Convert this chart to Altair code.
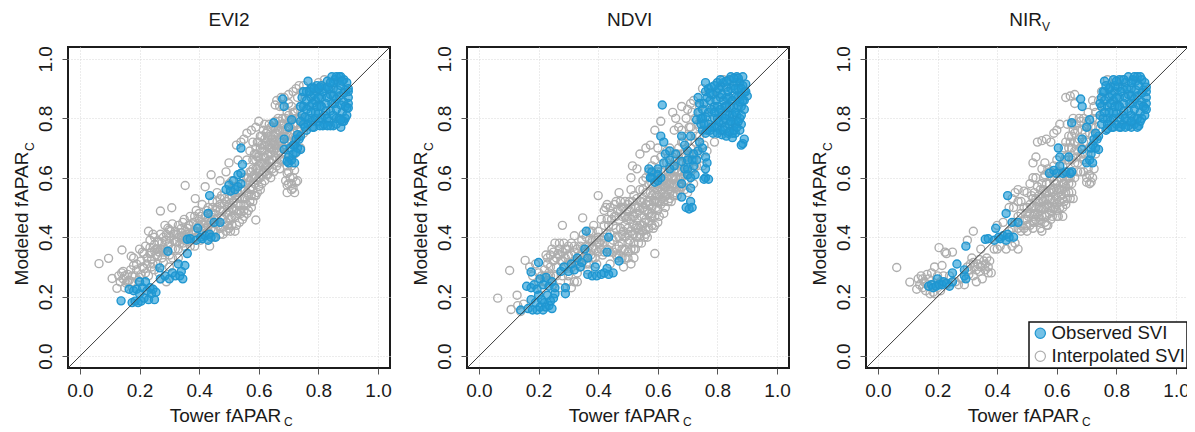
import altair as alt
import pandas as pd

PANELS = ["EVI2", "NDVI", "NIR"]
PANEL_TITLE_X = [140.5, 140, 143.3]
SUBSCRIPTS = ["", "", "V"]
TICKS = [0.0, 0.2, 0.4, 0.6, 0.8, 1.0]
DIAGONAL = [-0.04, 1.04]
OBSERVED = "Observed SVI"
INTERPOLATED = "Interpolated SVI"

EVI2_GRAY = [(.064,.311),(.096,.329),(.108,.261),(.141,.357),(.172,.336),(.124,.228),(.27,.488),(.308,.499),(.353,.574),(.387,.53),(.59,.458),
(.13,.27),(.135,.25),(.14,.28),(.145,.26),(.15,.27),(.155,.245),(.16,.275),(.15,.23),(.165,.255),(.17,.29),(.18,.33),(.175,.25),(.185,.27),(.19,.29),(.195,.255),(.2,.36),(.205,.32),(.215,.345),(.22,.37),(.225,.33),(.23,.42),(.235,.39),(.24,.35),(.21,.30),(.22,.28),(.245,.41),(.25,.375),(.255,.34),(.26,.31),(.265,.385),(.27,.36),(.275,.33),(.28,.40),(.285,.44),(.29,.41),(.295,.37),(.3,.34),(.305,.42),(.31,.445),(.315,.39),(.32,.36),(.325,.41),(.33,.44),(.335,.38),(.34,.43),(.345,.40),(.35,.46),(.355,.42),(.36,.385),(.365,.44),(.37,.47),(.375,.41),(.38,.45),(.385,.37),(.39,.49),(.395,.43),(.4,.46),(.405,.39),(.41,.51),(.415,.44),(.42,.47),(.425,.41),(.43,.50),(.435,.37),(.44,.45),(.445,.52),(.45,.42),(.455,.49),(.46,.55),(.465,.44),(.47,.51),(.475,.47),(.48,.41),(.485,.53),(.49,.45),(.495,.50),(.5,.43),(.505,.56),(.51,.47),(.515,.52),(.52,.42),(.525,.49),(.53,.55),(.535,.45),(.54,.51),(.545,.58),(.55,.47),(.555,.53),(.56,.60),(.565,.49),(.57,.56),(.575,.62),(.58,.52),(.58,.66),(.585,.58),(.59,.70),(.59,.54),(.595,.63),(.6,.67),(.6,.57),(.605,.74),(.61,.61),(.61,.69),(.615,.76),(.62,.65),(.62,.59),(.625,.72),(.63,.68),(.63,.61),(.635,.78),(.64,.74),(.64,.65),(.645,.70),(.65,.62),(.65,.77),(.655,.67),(.66,.86),(.66,.73),(.665,.80),(.67,.69),(.67,.63),(.675,.87),(.68,.76),(.68,.84),(.685,.66),(.69,.80),(.69,.59),(.695,.72),(.695,.55),(.70,.85),(.70,.62),(.705,.77),(.71,.56),(.71,.58),(.715,.89),(.715,.60),(.72,.82),(.72,.55),(.725,.74),(.73,.59),(.73,.87),(.74,.80),(.74,.70),(.75,.91),
(.49,.62),(.5,.65),(.51,.59),(.53,.66),(.525,.71),(.54,.72),(.44,.61),(.42,.57),(.47,.59),(.55,.73),(.56,.75),(.575,.76),(.59,.77),(.6,.79),(.62,.78),
(.5,.49),(.51,.54),(.52,.57),(.53,.51),(.54,.48),(.55,.56),(.56,.51),(.57,.59),(.575,.54),(.585,.61),(.59,.66),(.595,.59),(.6,.62),(.605,.56),(.61,.65),(.615,.62),(.62,.69),(.625,.64),(.63,.73),(.635,.66),(.64,.70),(.645,.63),(.65,.72),(.655,.75),(.66,.69),(.665,.65),(.67,.73),(.675,.78),(.68,.70),(.685,.74),(.69,.68),(.695,.77),(.70,.72),(.705,.66),(.71,.64),(.72,.68),
(.44,.48),(.45,.46),(.46,.50),(.47,.43),(.48,.49),(.49,.42),(.5,.53),(.51,.44),(.35,.37),(.37,.39),(.39,.40),(.41,.42),(.43,.44),(.24,.30),(.25,.29),(.26,.36),(.28,.35),(.3,.38),(.32,.42),(.27,.26),(.29,.25),(.31,.28),(.33,.33),(.76,.80),(.78,.85),(.80,.92),(.82,.93),(.76,.86),(.74,.84),(.75,.75),(.73,.78),(.72,.72),(.745,.89),
(.145,.285),(.16,.25),(.175,.27),(.19,.31),(.205,.275),(.21,.35),(.225,.31),(.235,.365),(.24,.325),(.25,.40),(.255,.36),(.265,.35),(.27,.41),(.275,.38),(.285,.36),(.29,.39),(.295,.43),(.3,.40),(.31,.36),(.315,.41),(.325,.385),(.33,.36),(.34,.40),(.345,.45),(.35,.39),(.36,.43),(.365,.41),(.37,.44),(.38,.42),(.385,.47),(.39,.44),(.4,.41),(.405,.47),(.41,.45),(.42,.43),(.425,.49),(.43,.46),(.44,.43),(.445,.50),(.45,.48),(.46,.46),(.46,.52),(.47,.49),(.475,.54),(.48,.46),(.485,.51),(.49,.48),(.495,.44),(.5,.51),(.505,.46),(.51,.50),(.515,.55),(.52,.47),(.525,.53),(.53,.48),(.535,.53),(.54,.56),(.545,.46),(.55,.51),(.555,.58),(.56,.48),(.565,.54),(.57,.62),(.575,.50),(.58,.60),(.58,.56),(.585,.68),(.59,.63),(.595,.72),(.595,.55),(.6,.60),(.605,.65),(.605,.70),(.61,.58),(.615,.67),(.62,.73),(.62,.62),(.625,.61),(.63,.76),(.63,.64),(.635,.70),(.64,.60),(.64,.68),(.645,.66),(.65,.74),(.65,.69),(.655,.71),(.66,.64),(.66,.77),(.665,.71),(.67,.66),(.67,.79),(.675,.72),(.68,.66),(.68,.80),(.685,.70),(.69,.76),(.695,.64),(.70,.81),(.70,.74),(.705,.69),(.71,.84),(.715,.78),(.72,.75),(.73,.83),(.73,.76),(.70,.58),(.705,.60),(.715,.565),(.695,.575),(.725,.585),(.72,.625),(.695,.615),
(.20,.265),(.215,.295),(.23,.27),(.235,.345),(.245,.31),(.26,.335),(.265,.28),(.28,.315),(.29,.35),(.30,.30),(.31,.33),(.32,.385),(.33,.40),(.345,.38),(.355,.40),(.37,.37),(.38,.395),(.39,.42),(.40,.44),(.41,.41),(.42,.45),(.43,.42),(.45,.40),(.455,.445),(.47,.41),(.48,.435),(.49,.52),(.50,.46),(.505,.42),(.515,.49),(.525,.44),(.535,.49),(.545,.53),(.55,.49),(.56,.55),(.565,.60),(.57,.52),(.575,.57),(.58,.63),(.585,.54),(.59,.60),(.595,.67),(.60,.64),(.605,.60),(.61,.71),(.615,.64),(.62,.67),(.625,.75),(.63,.71),(.635,.63),(.64,.77),(.645,.73),(.65,.66),(.655,.79),(.66,.70),(.665,.76),(.67,.72),(.675,.68),(.68,.73),(.685,.78),(.69,.71),(.695,.82),(.70,.79),(.705,.75),(.71,.72),(.715,.82),(.72,.78),(.725,.80),(.735,.74),(.74,.77),(.67,.84),(.655,.845),(.685,.87),(.70,.88),(.725,.90),(.735,.91),
(.18,.305),(.25,.355),(.26,.385),(.275,.36),(.30,.425),(.34,.415),(.36,.41),(.40,.48),(.43,.48),(.47,.53),(.50,.58),(.52,.54),(.55,.60),(.56,.66),(.57,.69),(.58,.72),(.59,.68),(.60,.72),(.61,.74),(.62,.71),(.63,.74),(.64,.72),(.65,.71),(.66,.75),(.67,.76),(.68,.78),(.69,.74),(.71,.80),(.73,.80)]

EVI2_BLUE = [(.138,.186),(.165,.225),(.175,.18),(.18,.22),(.185,.185),(.19,.225),(.195,.18),(.2,.25),(.2,.21),(.205,.185),(.21,.23),(.215,.195),(.22,.25),(.225,.22),(.23,.19),(.235,.23),(.24,.21),(.245,.225),(.25,.19),(.255,.215),
(.268,.297),(.295,.353),(.36,.345),(.352,.305),(.27,.26),(.285,.27),(.3,.26),(.31,.28),(.32,.27),(.33,.31),(.335,.27),(.34,.285),(.345,.26),
(.36,.393),(.37,.395),(.395,.43),(.39,.39),(.405,.40),(.41,.395),(.42,.405),(.43,.39),(.435,.41),(.44,.40),(.45,.45),(.455,.40),(.47,.45),(.43,.48),(.435,.54),
(.49,.56),(.5,.575),(.505,.555),(.515,.59),(.52,.56),(.53,.57),(.53,.61),(.54,.615),(.54,.58),(.545,.645),(.54,.70),
(.68,.865),(.685,.84),(.65,.785),(.71,.795),(.70,.77),(.685,.73),(.685,.695),(.7,.65),(.71,.66),(.715,.68),(.72,.65),(.73,.70),(.74,.695),(.735,.73),(.72,.71),(.74,.74),
(.765,.925),(.75,.78),(.745,.81),(.75,.84),(.745,.87),(.76,.89),(.76,.76),(.77,.80),(.77,.84),(.775,.87),(.78,.905),(.785,.77),(.79,.82),(.79,.86),(.795,.89),(.8,.79),(.805,.84),(.805,.905),(.81,.87),(.815,.775),(.82,.81),(.82,.90),(.825,.85),(.83,.925),(.835,.79),(.84,.88),(.84,.825),(.845,.94),(.85,.775),(.85,.90),(.855,.85),(.86,.80),(.865,.925),(.87,.94),(.87,.875),(.875,.77),(.88,.82),(.885,.93),(.885,.855),(.89,.895),(.89,.80),(.895,.835),(.895,.92),(.9,.87),(.9,.85),(.9,.89),(.885,.79),
(.755,.805),(.76,.83),(.76,.86),(.765,.78),(.775,.82),(.78,.79),(.78,.85),(.785,.88),(.79,.80),(.795,.84),(.8,.815),(.8,.87),(.81,.80),(.81,.84),(.815,.89),(.82,.78),(.825,.825),(.83,.80),(.83,.87),(.835,.90),(.84,.775),(.845,.85),(.85,.81),(.85,.875),(.855,.93),(.86,.78),(.86,.83),(.865,.895),(.87,.80),(.875,.845),(.875,.91),(.88,.79),(.885,.885),(.89,.84),(.85,.92),(.86,.865),(.795,.91),(.775,.90),
(.74,.79),(.74,.84),(.75,.89),(.755,.77),(.77,.89),(.785,.90),(.80,.90),(.81,.91),(.83,.905),(.84,.92),(.86,.94),(.875,.94),(.88,.925),(.90,.90),(.90,.835),(.895,.81),(.875,.795),(.83,.775),(.805,.775),(.78,.77),(.725,.73),(.73,.745),(.715,.71),(.70,.67),(.705,.70),(.725,.685),(.695,.655)]

NDVI_GRAY = [(.063,.195),(.103,.288),(.108,.157),(.128,.205),(.155,.322),(.13,.17),(.14,.15),(.15,.175),(.28,.44),(.32,.405),(.348,.465),(.4,.54),(.59,.345),
(.17,.30),(.19,.31),(.2,.25),(.21,.27),(.22,.29),(.225,.34),(.23,.31),(.235,.28),(.24,.34),(.245,.36),(.25,.32),(.255,.38),(.26,.30),(.265,.345),(.27,.38),(.275,.32),(.28,.35),(.285,.38),(.29,.33),(.295,.36),(.3,.25),(.31,.23),(.32,.25),(.3,.34),(.31,.38),(.315,.31),(.32,.35),(.33,.28),(.335,.32),(.34,.30),(.345,.39),(.35,.41),(.355,.33),(.36,.37),(.365,.29),(.37,.42),(.375,.34),(.38,.39),(.385,.44),(.39,.36),(.395,.31),(.4,.42),(.405,.38),(.41,.46),(.415,.34),(.42,.40),(.425,.50),(.43,.36),(.435,.44),(.44,.31),(.445,.48),(.45,.39),(.455,.51),(.46,.43),(.465,.33),(.47,.46),(.475,.52),(.48,.38),(.485,.30),(.49,.44),(.495,.49),(.5,.35),(.505,.52),(.51,.31),(.515,.41),(.52,.47),(.525,.36),(.53,.53),(.535,.43),(.54,.49),(.545,.38),(.55,.56),(.555,.45),(.56,.51),(.565,.40),(.57,.58),(.575,.47),(.58,.54),(.585,.43),(.59,.60),(.595,.50),(.6,.56),(.605,.47),(.61,.62),(.615,.53),(.62,.59),(.625,.50),(.63,.65),(.635,.56),(.64,.61),(.645,.52),(.65,.67),(.655,.58),(.66,.63),(.665,.54),(.67,.70),(.675,.60),(.68,.76),(.685,.65),(.69,.56),(.695,.80),(.70,.59),(.71,.70),(.72,.86),(.72,.63),(.74,.84),(.73,.68),(.755,.71),(.765,.69),(.74,.77),(.75,.64),
(.54,.68),(.56,.70),(.575,.71),(.59,.76),(.61,.79),(.65,.82),(.66,.80),(.68,.84),(.51,.60),(.53,.63),(.515,.64),(.55,.59),(.46,.52),(.44,.50),(.43,.46),(.42,.44),(.47,.55),(.49,.52),(.51,.56),(.53,.48),(.55,.42),(.57,.45),(.58,.48),(.6,.52),(.62,.55),(.64,.58),(.66,.60),(.68,.62),(.7,.65),(.5,.47),(.51,.50),(.52,.44),(.53,.40),(.54,.44),(.55,.50),(.56,.46),(.57,.52),(.58,.58),(.59,.52),(.6,.59),(.61,.55),(.62,.62),(.63,.58),(.64,.64),(.65,.60),(.66,.66),(.67,.62),(.68,.68),(.49,.36),(.48,.33),(.47,.37),(.46,.40),(.45,.44),(.44,.38),(.43,.41),(.42,.35),(.41,.39),(.4,.35),(.39,.39),(.38,.33),(.37,.37),(.36,.33),(.35,.36),(.33,.36),(.31,.34),(.29,.30),(.27,.34),(.25,.27),(.23,.27),(.21,.23),(.76,.78),(.78,.88),(.8,.92),(.82,.93),(.76,.83),(.75,.90),(.79,.72),
(.42,.49),(.43,.51),(.445,.46),(.455,.47),(.465,.49),(.475,.43),(.48,.47),(.485,.50),(.49,.40),(.495,.46),(.5,.43),(.505,.39),(.51,.46),(.515,.52),(.52,.38),(.525,.50),(.53,.44),(.535,.38),(.54,.52),(.545,.47),(.55,.53),(.555,.40),(.56,.55),(.565,.49),(.57,.43),(.575,.55),(.58,.50),(.58,.44),(.585,.57),(.59,.47),(.595,.54),(.6,.49),(.6,.62),(.605,.57),(.61,.51),(.615,.59),(.62,.52),(.625,.57),(.63,.54),(.635,.62),(.64,.55),(.645,.60),(.65,.54),(.655,.62),(.66,.57),(.665,.68),(.67,.58),(.675,.65),(.68,.60),(.685,.72),(.69,.61),(.695,.67),(.70,.55),(.705,.77),(.71,.62),(.715,.82),(.72,.58),(.725,.72),(.73,.64),(.735,.78),(.74,.68),(.41,.36),(.40,.38),(.39,.33),(.38,.36),(.37,.31),(.36,.35),(.35,.32),(.34,.34),(.33,.31),(.32,.32),(.31,.30),(.30,.31),(.28,.32),(.26,.33),(.24,.30),(.24,.27),(.26,.27),(.28,.27),(.30,.27),(.33,.25),(.22,.25),(.20,.28),(.18,.27),(.45,.35),(.46,.36),(.47,.34),(.48,.41),(.49,.33),(.50,.38),(.51,.36),(.52,.33),
(.44,.41),(.46,.47),(.47,.40),(.475,.49),(.485,.42),(.49,.47),(.50,.41),(.505,.49),(.51,.42),(.515,.47),(.52,.41),(.525,.43),(.53,.46),(.535,.50),(.54,.41),(.545,.52),(.55,.44),(.555,.49),(.56,.43),(.565,.52),(.57,.48),(.575,.51),(.58,.47),(.585,.52),(.59,.55),(.595,.58),(.60,.54),(.605,.52),(.61,.58),(.615,.56),(.62,.57),(.625,.54),(.63,.60),(.635,.52),(.64,.57),(.65,.57),(.655,.54),(.66,.60),(.665,.62),(.67,.65),(.675,.57),(.68,.72),(.69,.68),(.70,.74),(.705,.68),(.71,.77),(.72,.68),(.725,.80),(.73,.74),(.74,.72),(.70,.83),(.71,.85),(.67,.77),(.655,.76),(.64,.70),(.63,.69),(.61,.67),(.60,.70),(.59,.66),(.58,.64),(.57,.62),(.56,.60),(.54,.56),(.52,.54),(.50,.51),(.48,.50),(.38,.42),(.37,.39),(.36,.40),(.34,.37),(.32,.37),(.30,.37),(.29,.36),(.27,.36),(.25,.35),(.23,.33),(.22,.27),(.25,.24),(.27,.23),
(.60,.45),(.59,.44),(.56,.41),(.54,.40),(.52,.36),(.50,.33),(.48,.36),(.46,.34),(.44,.35),(.42,.38),(.40,.40),(.38,.37),(.36,.31),(.62,.48),(.64,.53),(.66,.55),(.67,.56),(.68,.57),(.69,.59),(.70,.62),(.72,.66),(.74,.74)]

NDVI_BLUE = [(.14,.155),(.165,.16),(.175,.19),(.18,.155),(.19,.18),(.195,.155),(.2,.205),(.205,.165),(.21,.19),(.215,.155),(.22,.18),(.225,.165),(.23,.205),(.235,.17),(.24,.185),(.245,.16),(.25,.195),(.255,.21),
(.16,.235),(.175,.23),(.175,.283),(.185,.24),(.2,.315),(.195,.225),(.205,.26),(.215,.24),(.225,.265),(.235,.235),(.245,.25),(.255,.23),(.29,.21),(.29,.23),
(.275,.285),(.285,.30),(.3,.285),(.31,.31),(.32,.29),(.33,.33),(.34,.30),(.345,.315),(.355,.36),(.36,.42),(.365,.33),
(.365,.275),(.38,.27),(.39,.30),(.395,.27),(.41,.275),(.42,.28),(.43,.295),(.435,.275),(.43,.35),(.435,.40),(.45,.28),(.47,.32),
(.57,.63),(.58,.60),(.59,.585),(.6,.59),(.6,.63),(.61,.60),(.62,.65),(.61,.74),(.62,.72),(.615,.845),(.625,.68),(.64,.66),(.64,.69),(.655,.64),(.66,.68),
(.68,.74),(.71,.74),(.69,.71),(.70,.69),(.68,.655),(.69,.63),(.7,.61),(.715,.66),(.72,.64),(.725,.61),(.71,.60),(.735,.69),(.74,.72),(.75,.70),(.68,.58),(.71,.565),(.68,.535),(.695,.50),(.705,.495),(.71,.52),(.715,.50),
(.76,.67),(.765,.65),(.76,.63),(.76,.60),(.77,.595),(.755,.595),
(.73,.795),(.735,.82),(.735,.87),(.76,.92),(.75,.76),(.75,.80),(.755,.85),(.76,.89),(.77,.78),(.77,.82),(.775,.86),(.78,.905),(.785,.75),(.79,.80),(.79,.84),(.795,.89),(.8,.77),(.805,.82),(.81,.87),(.81,.91),(.815,.745),(.82,.79),(.825,.84),(.83,.905),(.835,.75),(.84,.81),(.84,.87),(.845,.94),(.85,.78),(.855,.84),(.855,.91),(.86,.75),(.865,.81),(.865,.94),(.87,.87),(.875,.92),(.88,.78),(.88,.84),(.885,.94),(.89,.89),(.89,.86),(.895,.915),(.9,.875),(.885,.715),(.89,.73),(.88,.71),(.85,.735),
(.745,.78),(.75,.83),(.76,.805),(.765,.76),(.765,.87),(.77,.90),(.78,.77),(.78,.83),(.785,.88),(.79,.77),(.795,.86),(.8,.80),(.8,.84),(.805,.90),(.81,.76),(.815,.81),(.82,.86),(.82,.92),(.825,.77),(.83,.81),(.83,.87),(.84,.78),(.84,.84),(.845,.90),(.85,.75),(.85,.81),(.86,.78),(.86,.87),(.865,.92),(.87,.84),(.87,.90),(.875,.80),(.875,.76),(.88,.875),(.885,.91),(.89,.83),(.84,.93),(.80,.92),
(.74,.85),(.745,.80),(.755,.78),(.76,.75),(.775,.76),(.775,.885),(.79,.82),(.79,.91),(.80,.75),(.805,.79),(.81,.83),(.815,.88),(.82,.76),(.825,.80),(.83,.74),(.83,.84),(.835,.89),(.84,.755),(.845,.79),(.85,.86),(.855,.76),(.86,.82),(.86,.90),(.865,.77),(.87,.79),(.875,.855),(.88,.81),(.88,.90),(.885,.86),(.895,.89),(.87,.935),(.855,.935),(.83,.925),(.81,.93),
(.58,.62),(.575,.60),(.60,.61),(.64,.63),(.70,.66),(.72,.68),(.70,.63),(.73,.66)]

NIRV_GRAY = [(.063,.298),(.107,.249),(.13,.225),(.135,.26),(.14,.24),(.145,.27),(.15,.23),(.155,.25),(.16,.22),(.165,.275),(.17,.26),(.175,.21),(.18,.24),(.19,.30),(.19,.21),(.2,.27),(.205,.365),(.21,.22),(.215,.305),(.225,.35),(.23,.345),(.25,.35),(.24,.27),(.26,.25),(.27,.24),(.28,.26),(.3,.39),(.32,.42),(.345,.36),(.29,.24),(.3,.30),(.31,.31),(.315,.33),(.32,.27),(.325,.30),(.33,.25),(.335,.31),(.34,.285),(.345,.30),(.35,.26),(.355,.32),(.36,.29),(.365,.33),(.37,.30),(.38,.28),
(.39,.36),(.4,.36),(.41,.37),(.43,.36),(.46,.38),(.47,.36),(.45,.37),(.42,.45),(.4,.44),(.44,.50),(.45,.53),(.46,.55),(.47,.56),(.48,.52),(.49,.555),(.5,.55),(.51,.58),(.52,.60),(.53,.60),
(.47,.47),(.48,.44),(.49,.50),(.5,.46),(.5,.42),(.51,.51),(.52,.43),(.52,.47),(.525,.55),(.53,.50),(.54,.45),(.54,.54),(.545,.49),(.55,.42),(.55,.58),(.555,.52),(.56,.47),(.56,.61),(.565,.55),(.57,.50),(.57,.44),(.575,.58),(.58,.53),(.585,.47),(.585,.60),(.59,.56),(.595,.50),(.6,.59),(.6,.53),(.605,.47),(.61,.56),(.615,.60),(.62,.53),(.625,.58),(.63,.51),(.635,.60),(.64,.55),(.65,.58),(.655,.53),
(.53,.67),(.52,.65),(.535,.72),(.55,.725),(.565,.73),(.58,.72),(.59,.75),(.6,.76),(.61,.78),(.63,.87),(.645,.875),(.66,.88),(.66,.85),(.625,.70),(.64,.74),(.65,.78),(.66,.72),(.64,.66),(.65,.70),(.66,.65),(.67,.76),(.67,.69),(.68,.79),(.68,.62),(.69,.66),(.69,.72),(.7,.60),(.7,.77),(.71,.58),(.715,.585),(.72,.60),(.705,.63),(.72,.86),(.73,.82),(.72,.74),(.73,.68),(.66,.60),(.67,.62),(.65,.62),(.62,.64),(.6,.66),(.58,.62),(.56,.65),(.55,.63),(.63,.66),(.64,.62),(.65,.66),(.76,.84),(.75,.89),(.77,.93),(.82,.93),
(.15,.26),(.16,.245),(.17,.235),(.18,.28),(.185,.215),(.2,.23),(.21,.25),(.22,.27),(.23,.24),(.305,.275),(.31,.29),(.32,.315),(.33,.29),(.34,.325),(.35,.305),(.36,.31),(.37,.28),(.375,.32),
(.48,.48),(.49,.46),(.49,.43),(.5,.50),(.505,.47),(.51,.44),(.515,.54),(.52,.50),(.525,.45),(.53,.53),(.53,.46),(.535,.57),(.54,.50),(.545,.43),(.545,.56),(.55,.47),(.55,.53),(.555,.60),(.56,.50),(.56,.55),(.565,.44),(.565,.58),(.57,.53),(.575,.48),(.575,.62),(.58,.56),(.58,.46),(.59,.52),(.59,.59),(.595,.54),(.6,.49),(.6,.56),(.605,.62),(.61,.52),(.615,.56),(.62,.58),(.62,.50),(.63,.55),(.63,.59),(.64,.58),(.645,.53),(.645,.60),(.44,.42),(.45,.43),(.46,.45),(.47,.43),(.455,.50),(.47,.52),
(.63,.72),(.635,.78),(.65,.74),(.655,.80),(.665,.78),(.665,.67),(.675,.73),(.68,.67),(.68,.70),(.685,.76),(.69,.80),(.695,.68),(.695,.75),(.70,.72),(.705,.82),(.71,.70),(.715,.77),(.72,.80),(.73,.77),(.66,.69),(.67,.65),(.69,.62),(.70,.585),(.725,.63),(.71,.61),
(.50,.48),(.51,.48),(.515,.50),(.52,.53),(.525,.48),(.535,.48),(.54,.52),(.545,.46),(.55,.50),(.555,.56),(.56,.53),(.565,.47),(.57,.51),(.575,.55),(.58,.50),(.585,.55),(.59,.50),(.595,.58),(.60,.51),(.605,.55),(.61,.50),(.615,.54),(.62,.56),(.625,.52),(.63,.57),(.635,.53),(.64,.60),(.65,.55),(.48,.42),(.50,.44),(.52,.45),(.54,.47),(.56,.45),(.58,.49),(.60,.47),(.62,.47),(.645,.72),(.655,.76),(.67,.72),(.675,.80),(.685,.68),(.70,.79),(.71,.75),(.72,.77),(.725,.84),(.735,.80),(.74,.86),(.66,.75),(.64,.70),(.63,.67),(.61,.62),(.59,.64),(.57,.63)]

NIRV_BLUE = [(.17,.235),(.18,.24),(.185,.23),(.195,.235),(.2,.26),(.205,.24),(.215,.24),(.22,.25),(.23,.245),(.24,.235),(.25,.25),(.25,.28),(.265,.31),(.295,.37),(.29,.27),(.29,.29),(.295,.26),
(.36,.393),(.37,.395),(.395,.43),(.39,.39),(.405,.40),(.41,.395),(.42,.405),(.43,.39),(.435,.41),(.44,.40),(.45,.45),(.455,.40),(.47,.45),(.43,.48),(.435,.54),
(.575,.615),(.59,.625),(.6,.615),(.61,.64),(.61,.67),(.605,.70),(.62,.615),(.63,.62),(.64,.67),(.645,.615),(.65,.62),
(.68,.865),(.685,.84),(.65,.785),(.71,.795),(.70,.77),(.685,.73),(.685,.695),(.7,.65),(.71,.66),(.715,.68),(.72,.65),(.73,.70),(.74,.695),(.735,.73),(.72,.71),(.74,.74),
(.76,.925),(.75,.78),(.745,.81),(.75,.84),(.75,.87),(.76,.89),(.765,.76),(.77,.80),(.77,.84),(.775,.87),(.78,.905),(.785,.77),(.79,.82),(.79,.86),(.795,.89),(.8,.78),(.805,.84),(.805,.905),(.81,.87),(.815,.77),(.82,.81),(.82,.90),(.825,.85),(.83,.92),(.835,.79),(.84,.88),(.84,.825),(.84,.94),(.85,.77),(.85,.90),(.855,.85),(.86,.80),(.865,.925),(.87,.94),(.87,.875),(.875,.775),(.88,.82),(.885,.93),(.885,.855),(.89,.895),(.885,.80),(.895,.835),(.895,.92),(.9,.87),(.9,.85),(.9,.89),
(.755,.80),(.76,.82),(.76,.86),(.77,.78),(.775,.82),(.78,.79),(.78,.85),(.785,.88),(.79,.80),(.795,.84),(.8,.815),(.8,.87),(.81,.80),(.81,.84),(.815,.89),(.82,.78),(.825,.825),(.83,.80),(.83,.87),(.835,.90),(.84,.775),(.845,.85),(.85,.81),(.85,.875),(.855,.93),(.86,.78),(.86,.83),(.865,.895),(.87,.80),(.875,.845),(.875,.91),(.88,.79),(.885,.885),(.89,.84),(.85,.92),(.86,.865),(.795,.91),(.775,.90),(.81,.93),(.79,.93),
(.745,.85),(.755,.89),(.765,.91),(.79,.77),(.81,.77),(.83,.77),(.85,.79),(.87,.77),(.895,.81),(.90,.83),(.90,.905),(.88,.94),(.86,.94),(.825,.93),(.80,.925),(.77,.765),(.725,.73),(.73,.75),(.715,.70)]

GRAYS = [EVI2_GRAY, NDVI_GRAY, NIRV_GRAY]
BLUES = [EVI2_BLUE, NDVI_BLUE, NIRV_BLUE]

FONT = "Liberation Sans"
W, H = 322, 321
domain = alt.Scale(domain=DIAGONAL, nice=False, zero=False)


def frame(gray, blue):
    rows = [(x, y, INTERPOLATED) for x, y in gray] + [(x, y, OBSERVED) for x, y in blue]
    return pd.DataFrame(rows, columns=["x", "y", "kind"])


def text_layer(txt, x, y, size=12, angle=0):
    return alt.Chart(pd.DataFrame({"t": [txt]})).mark_text(
        font=FONT, fontSize=size, angle=angle, align="left", baseline="alphabetic",
        color="#1a1a1a", clip=False,
    ).encode(text="t:N", x=alt.value(x), y=alt.value(y))


def panel(i):
    legend = None
    if i == 2:
        legend = alt.Legend(
            title=None, orient="none", legendX=163, legendY=275,
            fillColor="white", strokeColor="#111111", padding=2,
            labelFont=FONT, labelFontSize=18.6, labelColor="#1a1a1a",
            symbolSize=105, symbolStrokeWidth=1.2, rowPadding=4, labelOffset=2,
            symbolType="circle",
        )
    kinds = [OBSERVED, INTERPOLATED]
    pts = alt.Chart(frame(GRAYS[i], BLUES[i])).mark_point(
        shape="circle", filled=True, size=64, strokeWidth=1.4, opacity=1
    ).encode(
        x=alt.X("x:Q", scale=domain, axis=alt.Axis(
            title="Tower fAPAR", values=TICKS, format=".1f", grid=True, gridDash=[1, 2],
            gridColor="#d8d8d8", gridWidth=1, domain=False, tickSize=6, tickColor="#555555",
            labelFont=FONT, labelFontSize=19, labelColor="#1a1a1a", labelPadding=7,
            labelOverlap=False, labelFlush=False,
            titleFont=FONT, titleFontSize=19, titleFontWeight="normal", titleColor="#1a1a1a",
            titleX=157, titleY=53, titleBaseline="alphabetic",
        )),
        y=alt.Y("y:Q", scale=domain, axis=alt.Axis(
            title="Modeled fAPAR", values=TICKS, format=".1f", grid=True, gridDash=[1, 2],
            gridColor="#d8d8d8", gridWidth=1, domain=False, tickSize=6, tickColor="#555555",
            labelFont=FONT, labelFontSize=19, labelColor="#1a1a1a", labelAngle=270,
            labelAlign="center", labelBaseline="bottom", labelPadding=7, labelOverlap=False,
            titleFont=FONT, titleFontSize=19, titleFontWeight="normal", titleColor="#1a1a1a",
            titleX=-41, titleY=171, titleBaseline="alphabetic", titleAngle=270,
        )),
        fill=alt.Fill("kind:N", sort=kinds, scale=alt.Scale(
            domain=kinds, range=["rgba(30,155,215,0.62)", "rgba(255,255,255,0)"]), legend=legend),
        stroke=alt.Stroke("kind:N", sort=kinds, scale=alt.Scale(
            domain=kinds, range=["#2096d0", "#aeaeae"]), legend=legend),
    )
    line = alt.Chart(pd.DataFrame({"x": DIAGONAL, "y": DIAGONAL})).mark_line(
        color="#3c3c3c", strokeWidth=1, clip=True
    ).encode(x=alt.X("x:Q", scale=domain), y=alt.Y("y:Q", scale=domain))
    layers = [
        pts, line,
        text_layer("C", 216, 379),
        text_layer("C", -34, 104, angle=270),
        text_layer(PANELS[i], PANEL_TITLE_X[i], -21, size=19),
    ]
    if SUBSCRIPTS[i]:
        layers.append(text_layer(SUBSCRIPTS[i], 176, -15.6))
    return alt.layer(*layers).properties(width=W, height=H)


chart = alt.hconcat(panel(0), panel(1), panel(2), spacing=77, bounds="flush").resolve_scale(
    fill="independent", stroke="independent"
).configure_view(stroke="#1c1c1c", strokeWidth=2).configure_legend(
    strokeWidth=1.5
).properties(padding={"left": 3, "top": 2, "right": -4, "bottom": 0}, background="white")

chart.save("out.html", embed_options={"renderer": "svg", "actions": False})
